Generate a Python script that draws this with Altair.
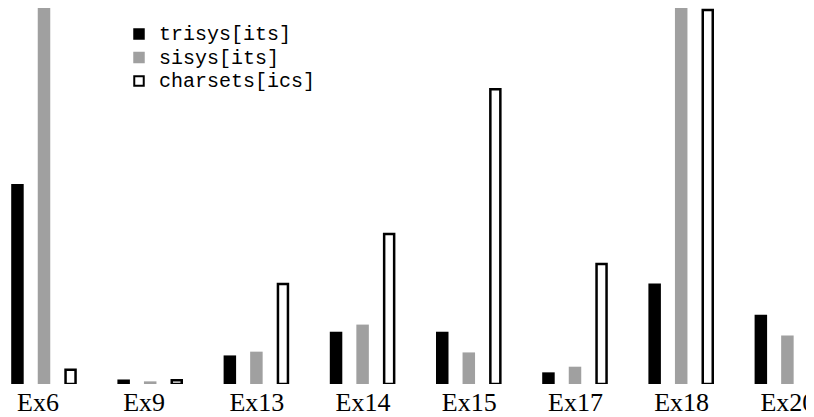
import altair as alt
import pandas as pd

groups = ["Ex6", "Ex9", "Ex13", "Ex14", "Ex15", "Ex17", "Ex18", "Ex20"]
series = ["trisys[its]", "sisys[its]", "charsets[ics]"]
trisys = [53.2, 1.2, 7.6, 13.9, 13.9, 3.1, 26.7, 18.4]
sisys = [130.0, 0.7, 8.6, 15.8, 8.4, 4.6, 115.0, 12.9]
charsets = [3.8, 1.0, 26.6, 39.9, 78.4, 31.9, 99.5, 34.3]

rows = []
for name, vals in zip(series, [trisys, sisys, charsets]):
    for g, v in zip(groups, vals):
        rows.append({"group": g, "series": name, "value": v})
df = pd.DataFrame(rows)

step = 106.2
first_center = 36.0
x_range = [first_center - step / 2, first_center - step / 2 + step * len(groups)]

x_enc = alt.X(
    "group:N",
    sort=groups,
    scale=alt.Scale(range=x_range, paddingInner=0, paddingOuter=0, round=False),
    axis=alt.Axis(
        title=None,
        domain=False,
        ticks=False,
        tickSize=0,
        labelAngle=0,
        labelAlign="left",
        labelOffset=-27,
        labelBaseline="alphabetic",
        labelPadding=26,
        labelFont="Liberation Serif",
        labelFontSize=26,
        labelColor="black",
        grid=False,
    ),
)
xo_enc = alt.XOffset(
    "series:N",
    sort=series,
    scale=alt.Scale(domain=series, paddingInner=0, paddingOuter=0.5, round=False),
)
y_enc = alt.Y(
    "value:Q",
    scale=alt.Scale(domain=[0, 100], nice=False, zero=True),
    axis=None,
)

legend_opts = dict(
    title=None,
    orient="none",
    legendX=121,
    legendY=16,
    symbolType="square",
    symbolSize=90,
    symbolStrokeWidth=2,
    labelFont="Liberation Mono",
    labelFontSize=20,
    labelColor="black",
    labelOffset=10,
    rowPadding=3.5,
    padding=0,
    symbolOffset=0,
)

fill_enc = alt.Fill(
    "series:N",
    sort=series,
    scale=alt.Scale(domain=series, range=["#000000", "#a0a0a0", "#ffffff"]),
    legend=alt.Legend(**legend_opts),
)
stroke_enc = alt.Stroke(
    "series:N",
    sort=series,
    scale=alt.Scale(domain=series, range=["#000000", "#a0a0a0", "#000000"]),
    legend=alt.Legend(**legend_opts),
)

base = alt.Chart(df)

filled = base.transform_filter(
    alt.datum.series != "charsets[ics]"
).mark_bar(width=12.5, strokeWidth=0, clip=True).encode(
    x=x_enc, xOffset=xo_enc, y=y_enc, fill=fill_enc, stroke=stroke_enc
)

outlined = base.transform_filter(
    alt.datum.series == "charsets[ics]"
).mark_bar(width=10, strokeWidth=2.5, clip=True).encode(
    x=x_enc, xOffset=xo_enc, y=y_enc, fill=fill_enc, stroke=stroke_enc
)

chart = alt.layer(filled, outlined).properties(
    width=798,
    height=376,
    autosize=alt.AutoSizeParams(type="none"),
    padding={"left": 0, "top": 0, "right": 0, "bottom": 33},
    background="white",
).configure_view(stroke=None)

chart.save("out.html", embed_options={"renderer": "svg", "actions": False})
